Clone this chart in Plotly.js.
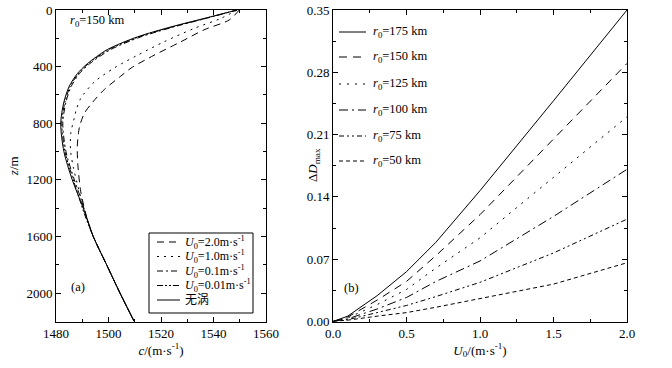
<!DOCTYPE html>
<html>
<head>
<meta charset="utf-8">
<script src="https://cdn.plot.ly/plotly-3.0.1.min.js"></script>
<style>html,body{margin:0;padding:0;background:#fff;}#chart{width:672px;height:368px;}</style>
</head>
<body>
<div id="chart"></div>
<script>
// ---------- Panel (a): sound speed profiles, r0 = 150 km ----------
const zNoEddy = [0, 60, 120, 190, 280, 380, 450, 540, 650, 800, 1000, 1200, 1400, 1600, 1800, 2000, 2200];
const cNoEddy = [1549, 1536.4, 1523.7, 1511, 1499.5, 1491.9, 1488.1, 1485, 1483, 1481.8, 1483, 1486.2, 1490.4, 1494.2, 1499.3, 1504.4, 1509.8];

const zU001 = [0, 60, 120, 190, 280, 380, 450, 540, 650, 800, 1000, 1200, 1350, 1450, 1600, 1800, 2000, 2200];
const cU001 = [1549, 1536.7, 1524.2, 1511.6, 1500.1, 1492.3, 1488.5, 1485.4, 1483.4, 1482.2, 1483.4, 1486.6, 1489.2, 1491, 1494.2, 1499.3, 1504.4, 1509.8];

const zU01 = [0, 60, 120, 190, 280, 380, 450, 540, 650, 800, 1000, 1200, 1350, 1450, 1600, 1800, 2000, 2200];
const cU01 = [1549, 1537, 1524.8, 1512.3, 1500.8, 1492.8, 1488.9, 1485.8, 1483.8, 1482.6, 1483.8, 1487, 1489.8, 1491.4, 1494.2, 1499.3, 1504.4, 1509.8];

const zU10 = [0, 60, 130, 225, 320, 410, 510, 625, 700, 760, 875, 1000, 1110, 1250, 1400, 1600, 1800, 2000, 2200];
const cU10 = [1549, 1542.7, 1532.6, 1521.1, 1511, 1502.1, 1494.5, 1489.4, 1487.8, 1487, 1485.6, 1485.6, 1486.6, 1488.4, 1490.6, 1494.2, 1499.3, 1504.4, 1509.8];

const zU20 = [0, 70, 140, 225, 320, 410, 470, 560, 650, 730, 830, 970, 1110, 1280, 1450, 1600, 1800, 2000, 2200];
const cU20 = [1549.8, 1546, 1536.4, 1527.5, 1517.3, 1508.6, 1504.5, 1498.5, 1494, 1490.8, 1488.9, 1488.1, 1488.4, 1489.4, 1491.5, 1494.2, 1499.3, 1504.4, 1509.8];

const legendA = ['<i>U</i><sub>0</sub>=2.0m·s<sup>-1</sup>', '<i>U</i><sub>0</sub>=1.0m·s<sup>-1</sup>',
                 '<i>U</i><sub>0</sub>=0.1m·s<sup>-1</sup>', '<i>U</i><sub>0</sub>=0.01m·s<sup>-1</sup>', '无涡'];
const dashA = ['7px,5px', '2px,5px', '6px,3px,2px,3px', '6px,2px,2px,2px,2px,2px', 'solid'];

// ---------- Panel (b): ΔDmax vs U0 ----------
const U0 = [0, 0.1, 0.3, 0.5, 0.7, 1.0, 1.5, 2.0];
const dD175 = [0, 0.006, 0.029, 0.056, 0.089, 0.147, 0.248, 0.350];
const dD150 = [0, 0.005, 0.024, 0.045, 0.074, 0.120, 0.205, 0.290];
const dD125 = [0, 0.004, 0.019, 0.036, 0.060, 0.094, 0.162, 0.230];
const dD100 = [0, 0.003, 0.014, 0.027, 0.045, 0.068, 0.118, 0.171];
const dD75  = [0, 0.002, 0.010, 0.018, 0.028, 0.044, 0.077, 0.115];
const dD50  = [0, 0.0015, 0.006, 0.010, 0.016, 0.026, 0.042, 0.066];
const legendB = ['<i>r</i><sub>0</sub>=175 km', '<i>r</i><sub>0</sub>=150 km', '<i>r</i><sub>0</sub>=125 km',
                 '<i>r</i><sub>0</sub>=100 km', '<i>r</i><sub>0</sub>=75 km', '<i>r</i><sub>0</sub>=50 km'];
const dashB = ['solid', '8px,6px', '2px,6px', '9px,4px,2px,4px', '5px,3px,2px,3px,2px,3px', '4px,3px'];

const FONT = 'Liberation Serif, Times New Roman, Noto Sans CJK SC, serif';
const W = 672, H = 368;
const px = x => x / W, py = y => 1 - y / H;

const seriesA = [[zU20, cU20], [zU10, cU10], [zU01, cU01], [zU001, cU001], [zNoEddy, cNoEddy]];
const seriesB = [dD175, dD150, dD125, dD100, dD75, dD50];

const traces = [];
seriesA.forEach((s, i) => traces.push({
  x: s[1], y: s[0], type: 'scatter', mode: 'lines', name: legendA[i], showlegend: false,
  line: {color: '#000', width: 1, dash: dashA[i], shape: 'spline', smoothing: 0.8},
  xaxis: 'x', yaxis: 'y'
}));
seriesB.forEach((s, i) => traces.push({
  x: U0, y: s, type: 'scatter', mode: 'lines', name: legendB[i], showlegend: false,
  line: {color: '#000', width: 1, dash: dashB[i]},
  xaxis: 'x2', yaxis: 'y2'
}));

const shapes = [];
const annotations = [];
// legend (a) box
shapes.push({type: 'rect', xref: 'paper', yref: 'paper', x0: px(149), x1: px(253), y0: py(233), y1: py(313),
  line: {color: '#000', width: 1}, fillcolor: '#fff', layer: 'above'});
const rowsA = [242, 256.5, 271, 285.5, 300];
legendA.forEach((t, i) => {
  shapes.push({type: 'line', xref: 'paper', yref: 'paper', x0: px(157), x1: px(180), y0: py(rowsA[i]), y1: py(rowsA[i]),
    line: {color: '#000', width: 1, dash: dashA[i]}, layer: 'above'});
  annotations.push({xref: 'paper', yref: 'paper', x: px(183), y: py(rowsA[i]), xanchor: 'left', yanchor: 'middle',
    text: t, showarrow: false, font: {family: FONT, size: 12, color: '#000'}});
});
const rowsB = [32, 57, 84, 110, 136, 161];
legendB.forEach((t, i) => {
  shapes.push({type: 'line', xref: 'paper', yref: 'paper', x0: px(339), x1: px(366), y0: py(rowsB[i]), y1: py(rowsB[i]),
    line: {color: '#000', width: 1, dash: dashB[i]}, layer: 'above'});
  annotations.push({xref: 'paper', yref: 'paper', x: px(371), y: py(rowsB[i]), xanchor: 'left', yanchor: 'middle',
    text: t, showarrow: false, font: {family: FONT, size: 12.5, color: '#000'}});
});
annotations.push({xref: 'paper', yref: 'paper', x: px(68), y: py(21), xanchor: 'left', yanchor: 'middle',
  text: '<i>r</i><sub>0</sub>=150 km', showarrow: false, font: {family: FONT, size: 12.5, color: '#000'}});
annotations.push({xref: 'paper', yref: 'paper', x: px(69), y: py(287), xanchor: 'left', yanchor: 'middle',
  text: '(a)', showarrow: false, font: {family: FONT, size: 12.5, color: '#000'}});
annotations.push({xref: 'paper', yref: 'paper', x: px(342), y: py(288), xanchor: 'left', yanchor: 'middle',
  text: '(b)', showarrow: false, font: {family: FONT, size: 12.5, color: '#000'}});
// y-axis title of panel (b), placed inside the tick-label column as in the original
annotations.push({xref: 'paper', yref: 'paper', x: px(313), y: py(165), xanchor: 'center', yanchor: 'middle',
  text: 'Δ<i>D</i><sub>max</sub>', textangle: -90, showarrow: false, font: {family: FONT, size: 13, color: '#000'}});

const axBase = {
  showgrid: false, zeroline: false, showline: true, linecolor: '#000', linewidth: 1, mirror: 'allticks',
  ticks: 'inside', ticklen: 5, tickwidth: 1, tickcolor: '#000',
  tickfont: {family: FONT, size: 13, color: '#000'},
  minor: {ticks: 'inside', ticklen: 3, tickwidth: 1, tickcolor: '#000', showgrid: false}
};
const yDom = [1 - 321.5 / H, 1 - 10 / H];
const layout = {
  width: W, height: H, margin: {l: 0, r: 0, t: 0, b: 0},
  paper_bgcolor: '#fff', plot_bgcolor: '#fff', showlegend: false,
  font: {family: FONT, color: '#000'},
  xaxis: Object.assign({}, axBase, {domain: [px(56), px(266)], range: [1480, 1560], dtick: 20, tick0: 1480,
    minor: Object.assign({}, axBase.minor, {dtick: 10}), anchor: 'y',
    title: {text: '<i>c</i>/(m·s<sup>-1</sup>)', font: {family: FONT, size: 13, color: '#000'}, standoff: 4}}),
  yaxis: Object.assign({}, axBase, {domain: yDom, range: [2200, 0], dtick: 400, tick0: 0,
    minor: Object.assign({}, axBase.minor, {dtick: 200}), anchor: 'x',
    title: {text: '<i>z</i>/m', font: {family: FONT, size: 13, color: '#000'}, standoff: 4}}),
  xaxis2: Object.assign({}, axBase, {domain: [px(333), px(627)], range: [0, 2], dtick: 0.5, tick0: 0, tickformat: '.1f',
    minor: Object.assign({}, axBase.minor, {dtick: 0.25}), anchor: 'y2',
    title: {text: '<i>U</i><sub>0</sub>/(m·s<sup>-1</sup>)', font: {family: FONT, size: 13, color: '#000'}, standoff: 4}}),
  yaxis2: Object.assign({}, axBase, {domain: yDom, range: [0, 0.35], dtick: 0.07, tick0: 0, tickformat: '.2f',
    minor: Object.assign({}, axBase.minor, {dtick: 0.035}), anchor: 'x2'}),
  shapes: shapes,
  annotations: annotations
};
Plotly.newPlot('chart', traces, layout, {displayModeBar: false, staticPlot: true});
</script>
</body>
</html>
